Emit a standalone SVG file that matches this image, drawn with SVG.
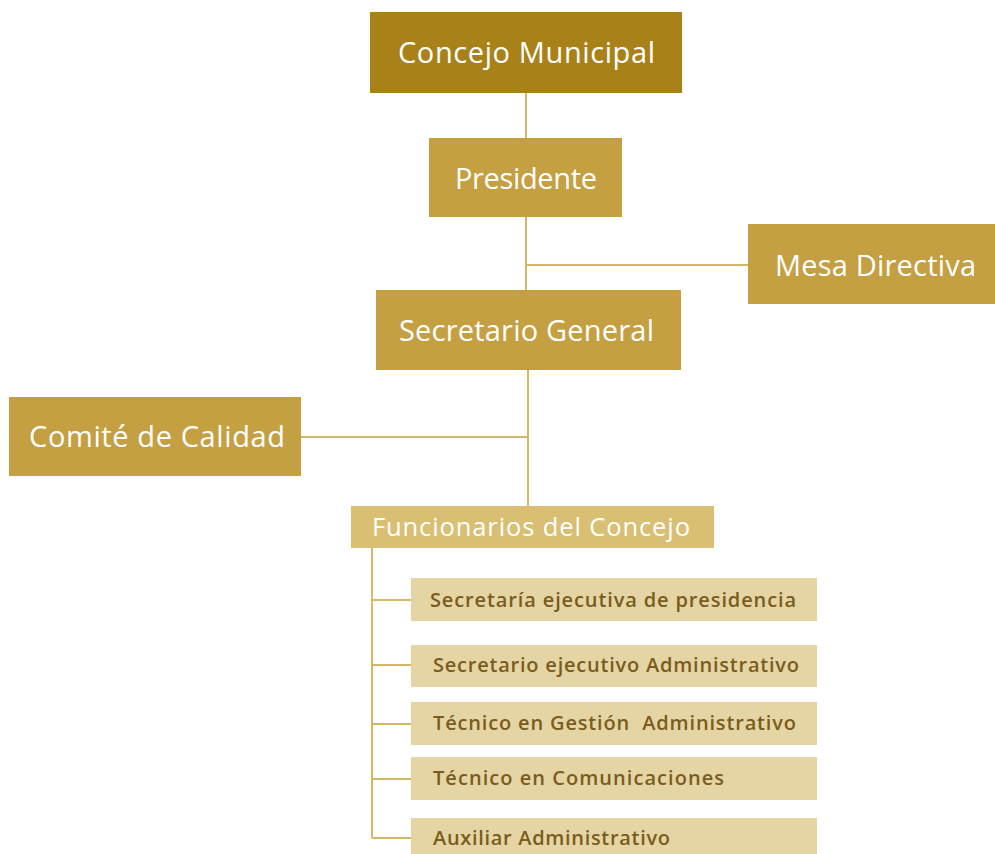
<svg xmlns="http://www.w3.org/2000/svg" width="995" height="854" viewBox="0 0 995 854">
<style>
.t{font-family:"Open Sans","Noto Sans","Liberation Sans",sans-serif}
.w{fill:#ffffff;font-size:29px}
.f{fill:#ffffff;font-size:25.5px}
.s{fill:#7a5c1c;font-size:20px;font-weight:600}
.b1{fill:#a98119}
.b2{fill:#c4a043}
.b3{fill:#d8bf74}
.b4{fill:#e5d5a5}
.c{stroke:#d4b866;stroke-width:2;fill:none}
</style>
<rect width="995" height="854" fill="#ffffff"/>
<g id="connectors">
<path class="c" d="M526 93V290M526 265H748M528 370V507M301 437H528M372 548V838M372 600H411M372 665H411M372 724H411M372 779H411M372 838H411"/>
</g>
<g id="concejo"><rect class="b1" x="370" y="12" width="312" height="81"/><text class="t w" x="398" y="63" textLength="257">Concejo Municipal</text></g>
<g id="presidente"><rect class="b2" x="429" y="138" width="193" height="79"/><text class="t w" x="455" y="189" textLength="142">Presidente</text></g>
<g id="mesa"><rect class="b2" x="748" y="224" width="247" height="80"/><text class="t w" x="775" y="276" textLength="201">Mesa Directiva</text></g>
<g id="secretario"><rect class="b2" x="376" y="290" width="305" height="80"/><text class="t w" x="399" y="341" textLength="255">Secretario General</text></g>
<g id="comite"><rect class="b2" x="9" y="397" width="292" height="79"/><text class="t w" x="29" y="447" textLength="256">Comité de Calidad</text></g>
<g id="funcionarios"><rect class="b3" x="351" y="506" width="363" height="42"/><text class="t f" x="372" y="536" textLength="318">Funcionarios del Concejo</text></g>
<g id="n1"><rect class="b4" x="411" y="578" width="406" height="43"/><text class="t s" x="430" y="607" textLength="366">Secretaría ejecutiva de presidencia</text></g>
<g id="n2"><rect class="b4" x="411" y="645" width="406" height="42"/><text class="t s" x="433" y="672" textLength="366">Secretario ejecutivo Administrativo</text></g>
<g id="n3"><rect class="b4" x="411" y="702" width="406" height="43"/><text class="t s" x="433" y="730" textLength="363" xml:space="preserve">Técnico en Gestión  Administrativo</text></g>
<g id="n4"><rect class="b4" x="411" y="757" width="406" height="43"/><text class="t s" x="433" y="785" textLength="291">Técnico en Comunicaciones</text></g>
<g id="n5"><rect class="b4" x="411" y="818" width="406" height="40"/><text class="t s" x="433" y="845" textLength="237">Auxiliar Administrativo</text></g>
</svg>
